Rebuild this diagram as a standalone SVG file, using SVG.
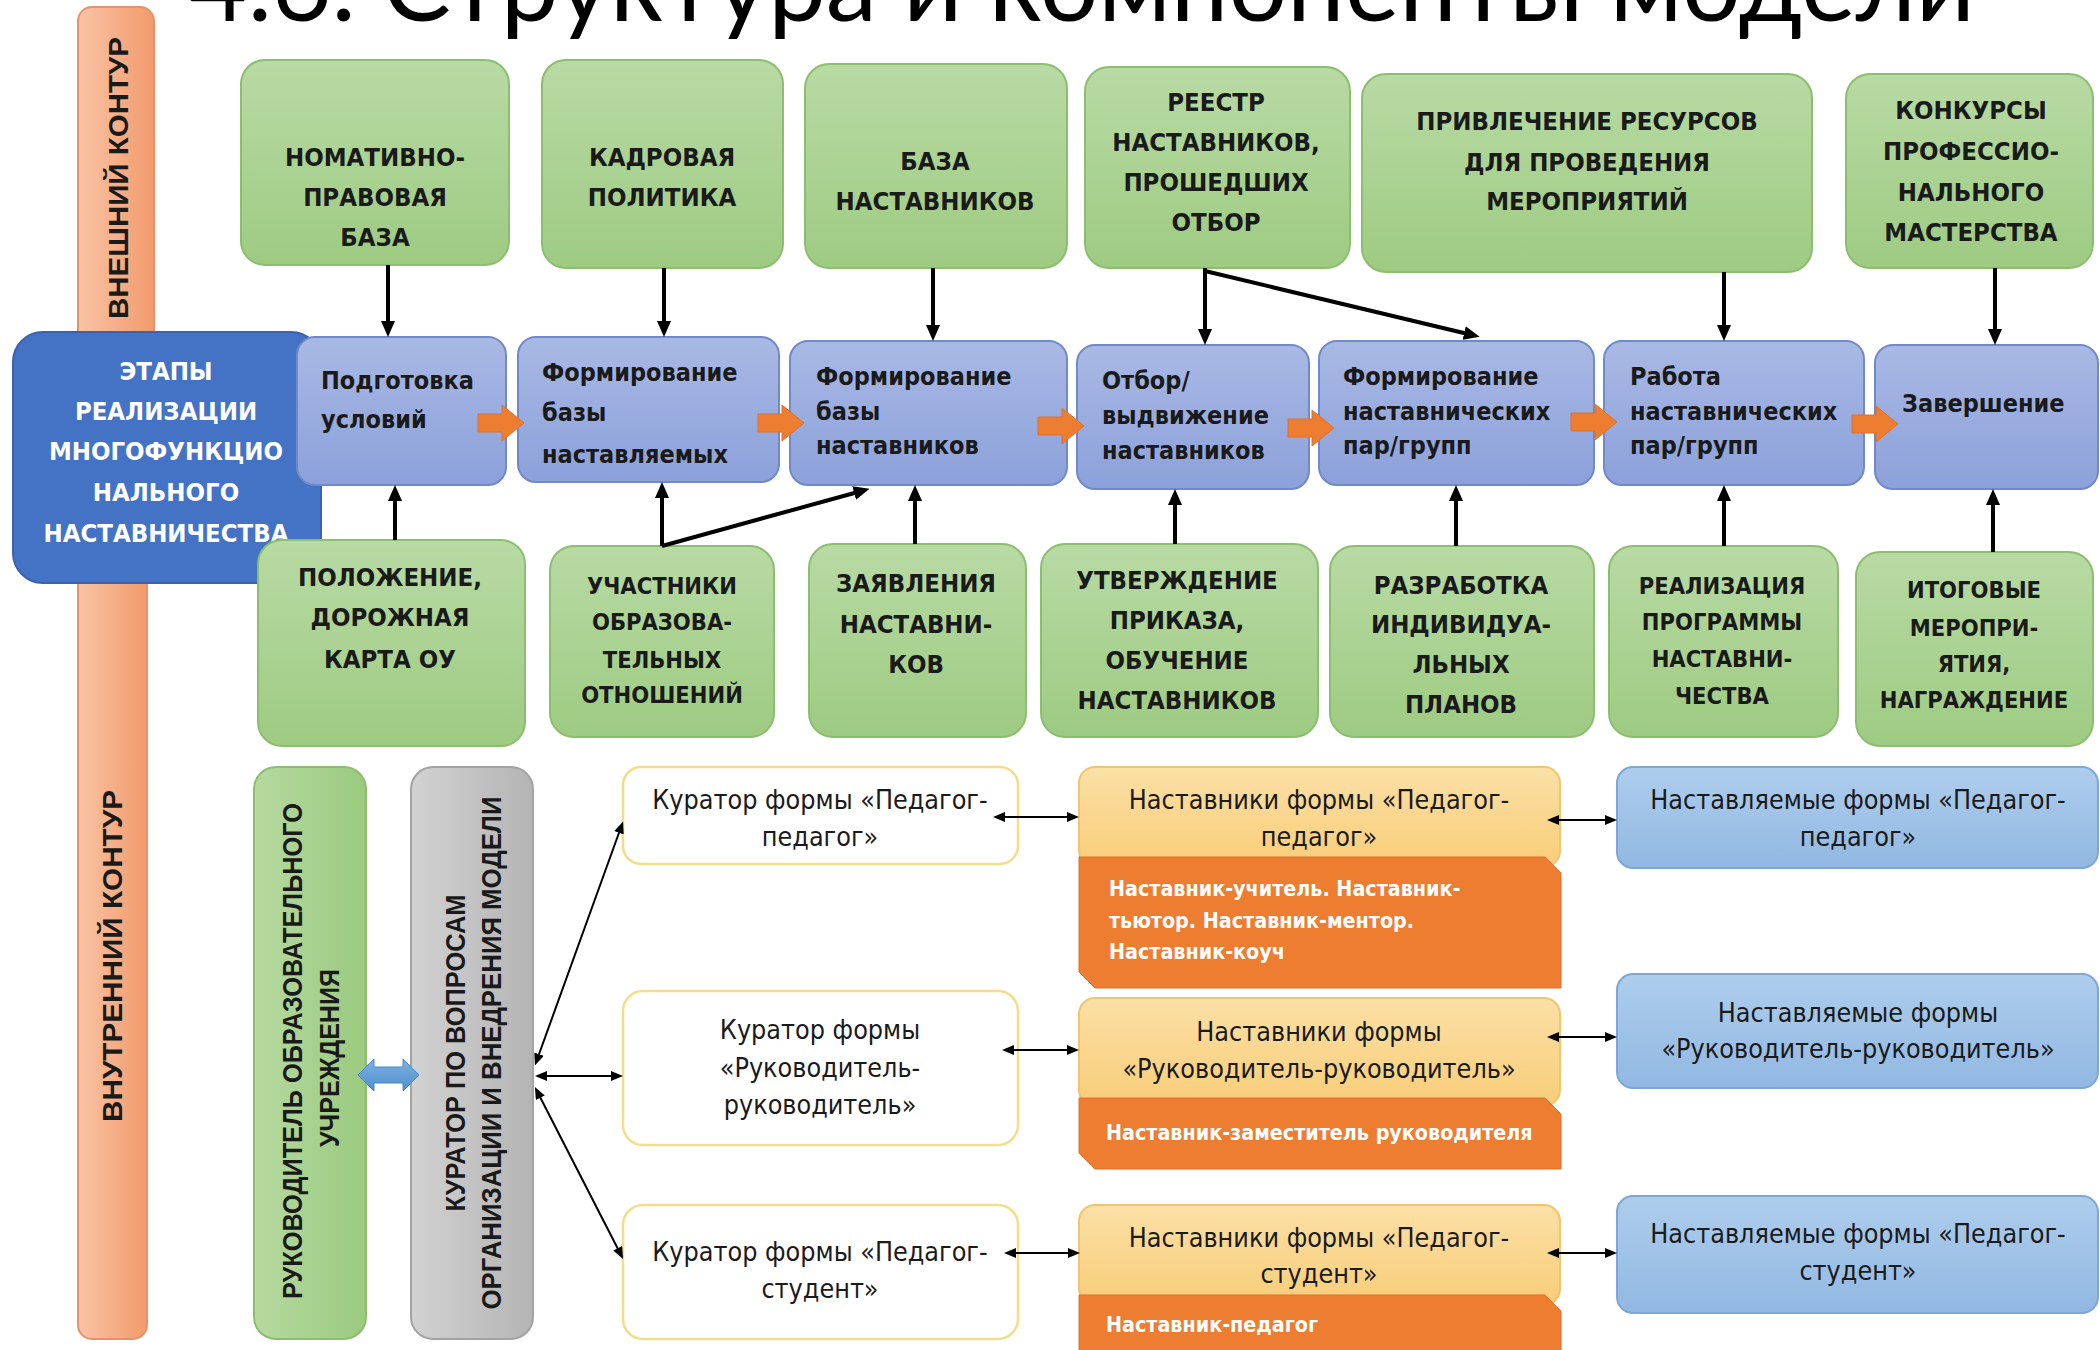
<svg xmlns="http://www.w3.org/2000/svg" width="2100" height="1350" viewBox="0 0 2100 1350">
<defs>
<linearGradient id="gGreen" x1="0" y1="0" x2="0" y2="1"><stop offset="0" stop-color="#B8DAA4"/><stop offset="1" stop-color="#9ECB82"/></linearGradient>
<linearGradient id="gVGreen" x1="0" y1="0" x2="1" y2="0"><stop offset="0" stop-color="#B6D9A0"/><stop offset="1" stop-color="#9BCA7F"/></linearGradient>
<linearGradient id="gStage" x1="0" y1="0" x2="0" y2="1"><stop offset="0" stop-color="#A9B9E5"/><stop offset="1" stop-color="#8CA1DA"/></linearGradient>
<linearGradient id="gMentee" x1="0" y1="0" x2="0" y2="1"><stop offset="0" stop-color="#ADCDEC"/><stop offset="1" stop-color="#92B8E2"/></linearGradient>
<linearGradient id="gMentor" x1="0" y1="0" x2="0" y2="1"><stop offset="0" stop-color="#FCE0A6"/><stop offset="1" stop-color="#F8CD78"/></linearGradient>
<linearGradient id="gGray" x1="0" y1="0" x2="1" y2="0"><stop offset="0" stop-color="#D2D2D2"/><stop offset="1" stop-color="#B4B4B4"/></linearGradient>
<linearGradient id="gBar" x1="0" y1="0" x2="1" y2="0"><stop offset="0" stop-color="#F9C4A6"/><stop offset="1" stop-color="#F29A6B"/></linearGradient>
<linearGradient id="gBlueArrow" x1="0" y1="0" x2="0" y2="1"><stop offset="0" stop-color="#7FB2E0"/><stop offset="1" stop-color="#4F8FCF"/></linearGradient>
<marker id="ah" viewBox="0 0 16 14" refX="4" refY="7" markerWidth="16" markerHeight="14" markerUnits="userSpaceOnUse" orient="auto"><path d="M0,0 L16,7 L0,14 z" fill="#000"/></marker>
<marker id="sa" viewBox="0 0 12 10" refX="3" refY="5" markerWidth="12" markerHeight="10" markerUnits="userSpaceOnUse" orient="auto-start-reverse"><path d="M0,0 L12,5 L0,10 z" fill="#000"/></marker>
<path id="oarrow" d="M0,-9 H24 V-18 L46,0 L24,18 V9 H0 Z"/>
<style>
.bar{fill:url(#gBar);stroke:#E8916A;stroke-width:2}
.green{fill:url(#gGreen);stroke:#8DBE70;stroke-width:2}
.vgreen{fill:url(#gVGreen);stroke:#8DBE70;stroke-width:2}
.stage{fill:url(#gStage);stroke:#6F89CA;stroke-width:2}
.dblue{fill:#4472C4;stroke:#3A62AE;stroke-width:2}
.gray{fill:url(#gGray);stroke:#A3A3A3;stroke-width:2}
.cur{fill:#FFFFFF;stroke:#F3DC8A;stroke-width:2.5}
.mtop{fill:url(#gMentor);stroke:#F1C56E;stroke-width:2}
.morange{fill:#ED7D31;stroke:#E0712A;stroke-width:1}
.mentee{fill:url(#gMentee);stroke:#7FA6D6;stroke-width:2}
text{font-family:"Liberation Sans Narrow","DejaVu Sans Condensed","Liberation Sans",sans-serif;fill:#1A1A1A}
.cap{font-size:25.5px;font-weight:bold;text-anchor:middle}
.capS{font-size:23.5px;font-weight:bold;text-anchor:middle}
.stg{font-size:25px;font-weight:bold}
.wcap{font-size:25.5px;font-weight:bold;text-anchor:middle;fill:#FFFFFF}
.vert{font-family:"Liberation Sans","DejaVu Sans",sans-serif;font-size:27px;font-weight:bold;text-anchor:middle}
.low{font-size:26.7px;text-anchor:middle}
.otx{font-size:21.3px;font-weight:bold;fill:#FFFFFF}
.title{font-family:"Lato","DejaVu Sans",sans-serif;font-weight:normal;font-size:102px;fill:#000}
.thick{stroke:#000;stroke-width:4;fill:none;marker-end:url(#ah)}
.thin{stroke:#000;stroke-width:2;fill:none;marker-start:url(#sa);marker-end:url(#sa)}
.oa{fill:#ED7D31;stroke:#E0712A;stroke-width:1}
</style>
</defs>
<rect width="2100" height="1350" fill="#FFFFFF"/>

<text class="title" x="188" y="21" textLength="1787" lengthAdjust="spacingAndGlyphs">4.6. Структура и компоненты модели</text>

<g id="outer-contour">
<rect class="bar" x="78" y="7" width="76" height="340" rx="14"/>
<text class="vert" transform="translate(128,178) rotate(-90)" textLength="282" lengthAdjust="spacingAndGlyphs">ВНЕШНИЙ  КОНТУР</text>
</g>
<g id="inner-contour">
<rect class="bar" x="78" y="560" width="69" height="779" rx="14"/>
<text class="vert" transform="translate(122,956) rotate(-90)" textLength="332" lengthAdjust="spacingAndGlyphs">ВНУТРЕННИЙ  КОНТУР</text>
</g>

<g id="stages-title">
<rect class="dblue" x="13" y="332" width="308" height="251" rx="30"/>
<text class="wcap"><tspan x="166" y="380">ЭТАПЫ</tspan><tspan x="166" y="420">РЕАЛИЗАЦИИ</tspan><tspan x="166" y="460">МНОГОФУНКЦИО</tspan><tspan x="166" y="501">НАЛЬНОГО</tspan><tspan x="166" y="542">НАСТАВНИЧЕСТВА</tspan></text>
</g>

<g id="top1"><rect class="green" x="241" y="60" width="268" height="205" rx="24"/>
<text class="cap"><tspan x="375" y="166">НОМАТИВНО-</tspan><tspan x="375" y="206">ПРАВОВАЯ</tspan><tspan x="375" y="246">БАЗА</tspan></text></g>
<g id="top2"><rect class="green" x="542" y="60" width="241" height="208" rx="24"/>
<text class="cap"><tspan x="662" y="166">КАДРОВАЯ</tspan><tspan x="662" y="206">ПОЛИТИКА</tspan></text></g>
<g id="top3"><rect class="green" x="805" y="64" width="262" height="204" rx="24"/>
<text class="cap"><tspan x="935" y="170">БАЗА</tspan><tspan x="935" y="210">НАСТАВНИКОВ</tspan></text></g>
<g id="top4"><rect class="green" x="1085" y="67" width="265" height="201" rx="24"/>
<text class="cap"><tspan x="1216" y="111">РЕЕСТР</tspan><tspan x="1216" y="151">НАСТАВНИКОВ,</tspan><tspan x="1216" y="191">ПРОШЕДШИХ</tspan><tspan x="1216" y="231">ОТБОР</tspan></text></g>
<g id="top5"><rect class="green" x="1362" y="74" width="450" height="198" rx="24"/>
<text class="cap"><tspan x="1587" y="130">ПРИВЛЕЧЕНИЕ РЕСУРСОВ</tspan><tspan x="1587" y="171">ДЛЯ ПРОВЕДЕНИЯ</tspan><tspan x="1587" y="210">МЕРОПРИЯТИЙ</tspan></text></g>
<g id="top6"><rect class="green" x="1846" y="74" width="247" height="194" rx="24"/>
<text class="cap"><tspan x="1971" y="119">КОНКУРСЫ</tspan><tspan x="1971" y="160">ПРОФЕССИО-</tspan><tspan x="1971" y="201">НАЛЬНОГО</tspan><tspan x="1971" y="241">МАСТЕРСТВА</tspan></text></g>

<g id="stage1"><rect class="stage" x="297" y="337" width="209" height="148" rx="18"/>
<text class="stg"><tspan x="321" y="389">Подготовка</tspan><tspan x="321" y="428">условий</tspan></text></g>
<g id="stage2"><rect class="stage" x="518" y="337" width="261" height="145" rx="18"/>
<text class="stg"><tspan x="542" y="381">Формирование</tspan><tspan x="542" y="421">базы</tspan><tspan x="542" y="463">наставляемых</tspan></text></g>
<g id="stage3"><rect class="stage" x="790" y="341" width="277" height="144" rx="18"/>
<text class="stg"><tspan x="816" y="385">Формирование</tspan><tspan x="816" y="420">базы</tspan><tspan x="816" y="454">наставников</tspan></text></g>
<g id="stage4"><rect class="stage" x="1077" y="345" width="232" height="144" rx="18"/>
<text class="stg"><tspan x="1102" y="389">Отбор/</tspan><tspan x="1102" y="424">выдвижение</tspan><tspan x="1102" y="459">наставников</tspan></text></g>
<g id="stage5"><rect class="stage" x="1319" y="341" width="275" height="144" rx="18"/>
<text class="stg"><tspan x="1343" y="385">Формирование</tspan><tspan x="1343" y="420">наставнических</tspan><tspan x="1343" y="454">пар/групп</tspan></text></g>
<g id="stage6"><rect class="stage" x="1604" y="341" width="260" height="144" rx="18"/>
<text class="stg"><tspan x="1630" y="385">Работа</tspan><tspan x="1630" y="420">наставнических</tspan><tspan x="1630" y="454">пар/групп</tspan></text></g>
<g id="stage7"><rect class="stage" x="1875" y="345" width="223" height="144" rx="18"/>
<text class="stg"><tspan x="1902" y="412">Завершение</tspan></text></g>

<g id="bot1"><rect class="green" x="258" y="540" width="267" height="206" rx="24"/>
<text class="cap"><tspan x="390" y="586">ПОЛОЖЕНИЕ,</tspan><tspan x="390" y="626">ДОРОЖНАЯ</tspan><tspan x="390" y="668">КАРТА ОУ</tspan></text></g>
<g id="bot2"><rect class="green" x="550" y="546" width="224" height="191" rx="24"/>
<text class="capS"><tspan x="662" y="594">УЧАСТНИКИ</tspan><tspan x="662" y="630">ОБРАЗОВА-</tspan><tspan x="662" y="668">ТЕЛЬНЫХ</tspan><tspan x="662" y="703">ОТНОШЕНИЙ</tspan></text></g>
<g id="bot3"><rect class="green" x="809" y="544" width="217" height="193" rx="24"/>
<text class="cap"><tspan x="916" y="592">ЗАЯВЛЕНИЯ</tspan><tspan x="916" y="633">НАСТАВНИ-</tspan><tspan x="916" y="673">КОВ</tspan></text></g>
<g id="bot4"><rect class="green" x="1041" y="544" width="277" height="193" rx="24"/>
<text class="cap"><tspan x="1177" y="589">УТВЕРЖДЕНИЕ</tspan><tspan x="1177" y="629">ПРИКАЗА,</tspan><tspan x="1177" y="669">ОБУЧЕНИЕ</tspan><tspan x="1177" y="709">НАСТАВНИКОВ</tspan></text></g>
<g id="bot5"><rect class="green" x="1330" y="546" width="264" height="191" rx="24"/>
<text class="cap"><tspan x="1461" y="594">РАЗРАБОТКА</tspan><tspan x="1461" y="633">ИНДИВИДУА-</tspan><tspan x="1461" y="673">ЛЬНЫХ</tspan><tspan x="1461" y="713">ПЛАНОВ</tspan></text></g>
<g id="bot6"><rect class="green" x="1609" y="546" width="229" height="191" rx="24"/>
<text class="capS"><tspan x="1722" y="594">РЕАЛИЗАЦИЯ</tspan><tspan x="1722" y="630">ПРОГРАММЫ</tspan><tspan x="1722" y="667">НАСТАВНИ-</tspan><tspan x="1722" y="704">ЧЕСТВА</tspan></text></g>
<g id="bot7"><rect class="green" x="1856" y="552" width="237" height="194" rx="24"/>
<text class="capS"><tspan x="1974" y="598">ИТОГОВЫЕ</tspan><tspan x="1974" y="636">МЕРОПРИ-</tspan><tspan x="1974" y="672">ЯТИЯ,</tspan><tspan x="1974" y="708">НАГРАЖДЕНИЕ</tspan></text></g>

<g id="head"><rect class="vgreen" x="254" y="767" width="112" height="572" rx="22"/>
<text class="vert" transform="translate(302,1051) rotate(-90)" textLength="496" lengthAdjust="spacingAndGlyphs">РУКОВОДИТЕЛЬ ОБРАЗОВАТЕЛЬНОГО</text>
<text class="vert" transform="translate(339,1058) rotate(-90)" textLength="178" lengthAdjust="spacingAndGlyphs">УЧРЕЖДЕНИЯ</text></g>
<g id="curator-main"><rect class="gray" x="411" y="767" width="122" height="572" rx="22"/>
<text class="vert" transform="translate(465,1053) rotate(-90)" textLength="317" lengthAdjust="spacingAndGlyphs">КУРАТОР ПО ВОПРОСАМ</text>
<text class="vert" transform="translate(501,1053) rotate(-90)" textLength="513" lengthAdjust="spacingAndGlyphs">ОРГАНИЗАЦИИ И ВНЕДРЕНИЯ МОДЕЛИ</text></g>

<g id="cur1"><rect class="cur" x="623" y="767" width="395" height="97" rx="18"/>
<text class="low"><tspan x="820" y="809">Куратор  формы «Педагог-</tspan><tspan x="820" y="846">педагог»</tspan></text></g>
<g id="cur2"><rect class="cur" x="623" y="991" width="395" height="154" rx="20"/>
<text class="low"><tspan x="820" y="1039">Куратор  формы</tspan><tspan x="820" y="1077">«Руководитель-</tspan><tspan x="820" y="1114">руководитель»</tspan></text></g>
<g id="cur3"><rect class="cur" x="623" y="1205" width="395" height="134" rx="20"/>
<text class="low"><tspan x="820" y="1261">Куратор  формы «Педагог-</tspan><tspan x="820" y="1298">студент»</tspan></text></g>

<g id="ment1"><rect class="mtop" x="1079" y="767" width="481" height="100" rx="16"/>
<path class="morange" d="M1079,857 H1545 L1561,873 V988 H1095 L1079,972 Z"/>
<text class="low"><tspan x="1319" y="809">Наставники формы «Педагог-</tspan><tspan x="1319" y="846">педагог»</tspan></text>
<text class="otx"><tspan x="1109" y="896">Наставник-учитель. Наставник-</tspan><tspan x="1109" y="928">тьютор. Наставник-ментор.</tspan><tspan x="1109" y="959">Наставник-коуч</tspan></text></g>
<g id="ment2"><rect class="mtop" x="1079" y="998" width="481" height="108" rx="16"/>
<path class="morange" d="M1079,1098 H1545 L1561,1114 V1169 H1095 L1079,1153 Z"/>
<text class="low"><tspan x="1319" y="1041">Наставники формы</tspan><tspan x="1319" y="1078">«Руководитель-руководитель»</tspan></text>
<text class="otx"><tspan x="1106" y="1140">Наставник-заместитель руководителя</tspan></text></g>
<g id="ment3"><rect class="mtop" x="1079" y="1205" width="481" height="100" rx="16"/>
<path class="morange" d="M1079,1295 H1545 L1561,1311 V1360 H1079 Z"/>
<text class="low"><tspan x="1319" y="1247">Наставники формы «Педагог-</tspan><tspan x="1319" y="1283">студент»</tspan></text>
<text class="otx"><tspan x="1106" y="1332">Наставник-педагог</tspan></text></g>

<g id="mentee1"><rect class="mentee" x="1617" y="767" width="481" height="101" rx="16"/>
<text class="low"><tspan x="1858" y="809">Наставляемые формы «Педагог-</tspan><tspan x="1858" y="846">педагог»</tspan></text></g>
<g id="mentee2"><rect class="mentee" x="1617" y="974" width="481" height="114" rx="16"/>
<text class="low"><tspan x="1858" y="1022">Наставляемые формы</tspan><tspan x="1858" y="1058">«Руководитель-руководитель»</tspan></text></g>
<g id="mentee3"><rect class="mentee" x="1617" y="1196" width="481" height="117" rx="16"/>
<text class="low"><tspan x="1858" y="1243">Наставляемые формы «Педагог-</tspan><tspan x="1858" y="1280">студент»</tspan></text></g>

<g id="connectors">
<path class="thick" d="M388,265 V325"/>
<path class="thick" d="M664,268 V325"/>
<path class="thick" d="M933,268 V329"/>
<path class="thick" d="M1205,268 V333"/>
<path class="thick" d="M1205,271 L1468,334"/>
<path class="thick" d="M1724,272 V329"/>
<path class="thick" d="M1995,268 V333"/>
<path class="thick" d="M395,540 V497"/>
<path class="thick" d="M662,546 V494"/>
<path class="thick" d="M662,546 L858,492"/>
<path class="thick" d="M915,544 V497"/>
<path class="thick" d="M1175,544 V501"/>
<path class="thick" d="M1456,546 V497"/>
<path class="thick" d="M1724,546 V497"/>
<path class="thick" d="M1993,552 V501"/>
<use class="oa" href="#oarrow" x="478" y="423"/>
<use class="oa" href="#oarrow" x="758" y="423"/>
<use class="oa" href="#oarrow" x="1038" y="426"/>
<use class="oa" href="#oarrow" x="1288" y="428"/>
<use class="oa" href="#oarrow" x="1571" y="422"/>
<use class="oa" href="#oarrow" x="1852" y="424"/>
<path d="M358,1075 L374,1059 V1067 H403 V1059 L419,1075 L403,1091 V1083 H374 V1091 Z" fill="url(#gBlueArrow)" stroke="#4A86C5" stroke-width="1"/>
<path class="thin" d="M538,1057 L620,830"/>
<path class="thin" d="M544,1076 H614"/>
<path class="thin" d="M539,1095 L619,1251"/>
<path class="thin" d="M1002,817 H1070"/>
<path class="thin" d="M1011,1050 H1070"/>
<path class="thin" d="M1013,1253 H1071"/>
<path class="thin" d="M1556,820 H1608"/>
<path class="thin" d="M1556,1037 H1608"/>
<path class="thin" d="M1556,1253 H1608"/>
</g>
</svg>
